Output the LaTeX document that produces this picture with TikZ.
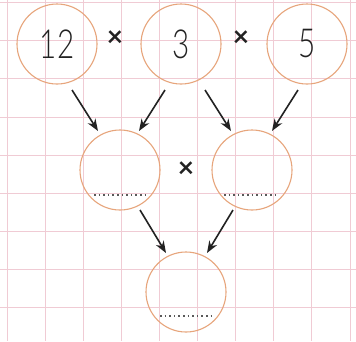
\documentclass[tikz,border=0pt]{standalone}
\usepackage{fontspec}
\setmainfont{Lato}
\newfontfamily\lightfont{Lato Light}
\usetikzlibrary{arrows.meta}
\definecolor{gridpink}{HTML}{F0CBD4}
\definecolor{ring}{HTML}{E7A57C}
\definecolor{ink}{HTML}{222222}
\tikzset{
  ball/.style={circle,draw=ring,line width=1.1pt,minimum size=80pt,inner sep=0pt,
    font=\lightfont\fontsize{40}{40}\selectfont,text=ink},
  times/.style={font=\bfseries\fontsize{28}{28}\selectfont,text=ink,inner sep=0pt},
  arr/.style={draw=ink,line width=1.6pt,-{Stealth[length=12pt,width=9pt]}},
  dots/.style={draw=ink!75,line width=1.6pt,dash pattern=on 1.6pt off 3pt}
}
\newcommand{\narrow}[1]{\scalebox{0.74}[1]{#1}}
\begin{document}
\begin{tikzpicture}[x=1pt,y=-1pt]
\useasboundingbox (0,0) rectangle (356,341);
\fill[white] (0,0) rectangle (356,341);
\foreach \k in {0,...,9} \draw[gridpink,line width=0.8pt] ({7+38.1*\k},0) -- ({7+38.1*\k},341);
\foreach \k in {0,...,8} \draw[gridpink,line width=0.8pt] (0,{2.5+38.15*\k}) -- (356,{2.5+38.15*\k});
% top row
\node[ball] (a) at (57,44) {\narrow{12}};
\node[ball] (b) at (181,44) {\narrow{3}};
\node[ball] (c) at (307,44) {\narrow{5}};
\node[times] (x1) at (115,39) {×};
\node[times] (x2) at (241,39) {×};
% middle row
\node[ball] (d) at (120,170) {};
\node[ball] (e) at (252,170) {};
\node[times] (x3) at (186,170) {×};
% bottom
\node[ball] (f) at (186,292) {};
% dotted answer lines
\coordinate (d1) at (94,195); \coordinate (d2) at (147,195);
\coordinate (e1) at (224,195); \coordinate (e2) at (277,195);
\coordinate (f1) at (160,316); \coordinate (f2) at (213,316);
\draw[dots] (d1) -- (d2);
\draw[dots] (e1) -- (e2);
\draw[dots] (f1) -- (f2);
% arrows
\coordinate (a1) at (72,90);  \coordinate (a2) at (98,131);
\coordinate (b1) at (165,90); \coordinate (b2) at (139,131);
\coordinate (b3) at (205,90); \coordinate (b4) at (231,131);
\coordinate (c1) at (298,90); \coordinate (c2) at (272,131);
\coordinate (d3) at (140,210); \coordinate (d4) at (166,253);
\coordinate (e3) at (233,210); \coordinate (e4) at (207,253);
\draw[arr] (a1) -- (a2);
\draw[arr] (b1) -- (b2);
\draw[arr] (b3) -- (b4);
\draw[arr] (c1) -- (c2);
\draw[arr] (d3) -- (d4);
\draw[arr] (e3) -- (e4);
\end{tikzpicture}
\end{document}
